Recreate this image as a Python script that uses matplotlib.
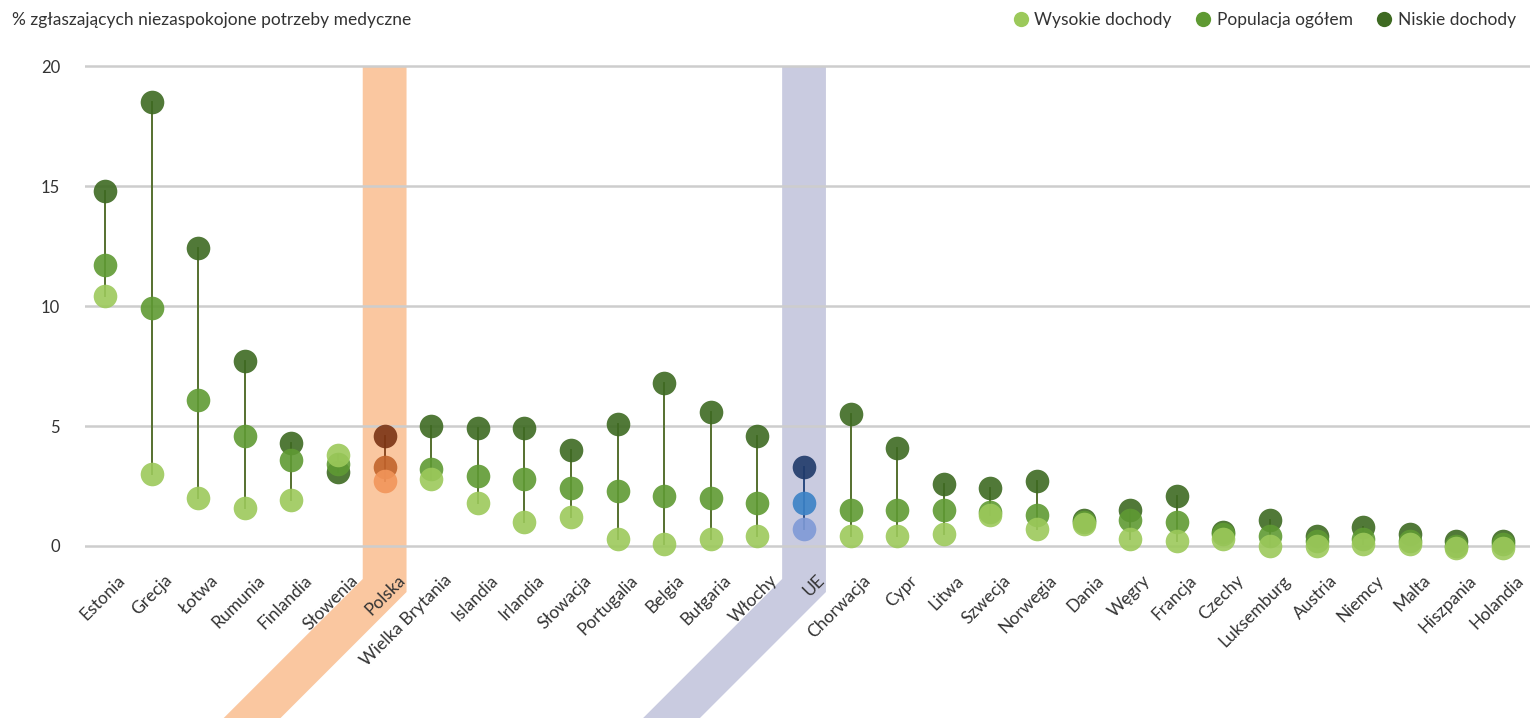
import numpy as np
import matplotlib; matplotlib.use("Agg")
import matplotlib.pyplot as plt
from matplotlib.lines import Line2D
from matplotlib.patches import Polygon
import matplotlib.transforms as mtrans

plt.rcParams.update({"font.family": ["Lato", "DejaVu Sans"], "font.size": 10})

countries = ["Estonia", "Grecja", "Łotwa", "Rumunia", "Finlandia", "Słowenia", "Polska",
             "Wielka Brytania", "Islandia", "Irlandia", "Słowacja", "Portugalia", "Belgia",
             "Bułgaria", "Włochy", "UE", "Chorwacja", "Cypr", "Litwa", "Szwecja", "Norwegia",
             "Dania", "Węgry", "Francja", "Czechy", "Luksemburg", "Austria", "Niemcy", "Malta",
             "Hiszpania", "Holandia"]
niskie = [14.8, 18.5, 12.4, 7.7, 4.3, 3.1, 4.6, 5.0, 4.9, 4.9, 4.0, 5.1, 6.8, 5.6, 4.6, 3.3,
          5.5, 4.1, 2.6, 2.4, 2.7, 1.1, 1.5, 2.1, 0.6, 1.1, 0.4, 0.8, 0.5, 0.2, 0.2]
ogolem = [11.7, 9.9, 6.1, 4.6, 3.6, 3.4, 3.3, 3.2, 2.9, 2.8, 2.4, 2.3, 2.1, 2.0, 1.8, 1.8,
          1.5, 1.5, 1.5, 1.4, 1.3, 1.0, 1.1, 1.0, 0.5, 0.4, 0.2, 0.3, 0.2, 0.0, 0.1]
wysokie = [10.4, 3.0, 2.0, 1.6, 1.9, 3.8, 2.7, 2.8, 1.8, 1.0, 1.2, 0.3, 0.1, 0.3, 0.4, 0.7,
           0.4, 0.4, 0.5, 1.3, 0.7, 0.9, 0.3, 0.2, 0.3, 0.0, 0.0, 0.1, 0.1, -0.1, -0.1]
yticks = [0, 5, 10, 15, 20]

GREEN = ("#9cc95b", "#5f9a33", "#3e6a22")     # wysokie, ogółem, niskie
PL = ("#f2955a", "#c2642c", "#7b3414")
EU = ("#7f9ad6", "#3b82c6", "#1f3a6a")
STEM = {"default": "#55702f", "Polska": "#8a4a22", "UE": "#2a4a80"}
BAND = {"Polska": "#fac7a0", "UE": "#c9cbe0"}

W, H = 1538, 718
fig = plt.figure(figsize=(W / 100, H / 100), dpi=100)
ax = fig.add_axes([85 / W, (H - 565.2) / H, 1445 / W, (565.2 - 58.8) / H])
ax.patch.set_visible(False)
x = np.arange(len(countries))
ax.set_xlim(-0.43, -0.43 + 1445 / 46.6)
ax.set_ylim(-0.8, 20.3)

for t in yticks:
    ax.axhline(t, color="#cdcdcd", lw=1.8, zorder=1)

# highlight bands (vertical, then following the rotated label at 45°), behind the axes
fig.canvas.draw()
for name, col in BAND.items():
    i = countries.index(name)
    xl, ytop = ax.transData.transform((i - 0.47, 20))
    xr, y0 = ax.transData.transform((i + 0.47, 0))
    yr = y0 - 46; yl = y0 - 33
    pts = [(xl, ytop), (xr, ytop), (xr, yr), (xr - yr, 0), (xl - yl, 0), (xl, yl)]
    fig.patches.append(Polygon(pts, closed=True, transform=None, facecolor=col,
                               edgecolor="none", zorder=-1, figure=fig))

for i, c in enumerate(countries):
    cols = PL if c == "Polska" else EU if c == "UE" else GREEN
    stem = STEM.get(c, STEM["default"])
    vals = [wysokie[i], ogolem[i], niskie[i]]
    ax.plot([i, i], [min(vals), max(vals)], color=stem, lw=1.4, zorder=2)
    for v, col, z in zip([niskie[i], ogolem[i], wysokie[i]], cols[::-1], [3, 4, 5]):
        ax.plot(i, v, "o", ms=17, color=col, mec="none", alpha=0.9, zorder=z)

ax.set_yticks(yticks)
ax.set_yticklabels([str(t) for t in yticks], fontsize=12, color="#333333")
ax.tick_params(axis="y", length=0, pad=18)
ax.set_xticks(x)
ax.set_xticklabels(countries, rotation=45, ha="right", va="top", rotation_mode="anchor",
                   fontsize=12.5, color="#333333")
ax.tick_params(axis="x", length=0, pad=5)
off = mtrans.ScaledTranslation(12 / 100, 0, fig.dpi_scale_trans)
for lab in ax.get_xticklabels():
    lab.set_transform(lab.get_transform() + off)
for s in ax.spines.values():
    s.set_visible(False)

fig.text(12 / W, 1 - 20 / H, "% zgłaszających niezaspokojone potrzeby medyczne",
         fontsize=12.5, color="#333333", va="center", ha="left")

handles = [Line2D([], [], ls="none", marker="o", ms=11, color=c, mec="none") for c in GREEN]
fig.legend(handles, ["Wysokie dochody", "Populacja ogółem", "Niskie dochody"],
           loc="center right", bbox_to_anchor=(1532 / W, 1 - 20 / H), ncol=3, frameon=False,
           fontsize=12.5, handletextpad=0.2, columnspacing=1.2, handlelength=1.2,
           labelcolor="#333333")

fig.savefig("out.png", dpi=100)
